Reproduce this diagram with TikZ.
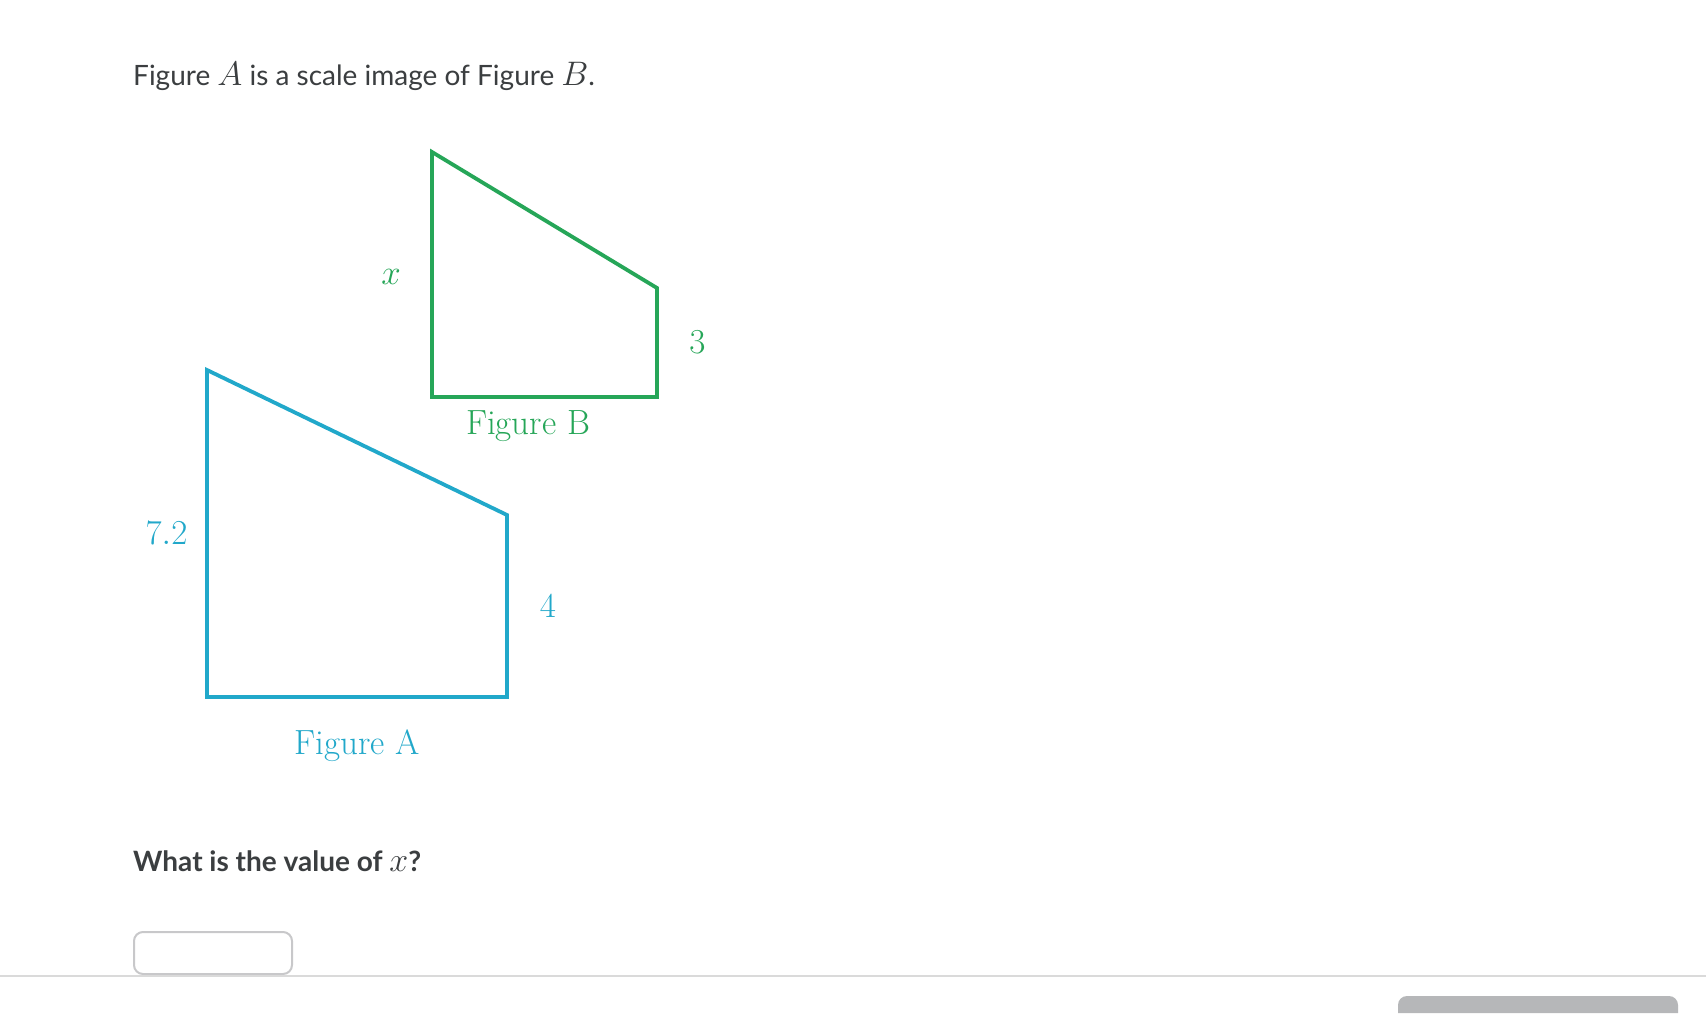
\documentclass[tikz,border=0pt]{standalone}
\usepackage{fix-cm}
\usepackage{fontspec}
\setsansfont{Lato}
\definecolor{figgreen}{RGB}{38,166,88}
\definecolor{figblue}{RGB}{33,168,202}
\definecolor{txtgray}{RGB}{59,62,64}
\definecolor{linegray}{RGB}{218,218,218}
\definecolor{boxgray}{RGB}{200,200,202}
\definecolor{btngray}{RGB}{182,183,185}
\newcommand{\bigmath}[1]{{\fontsize{34}{40}\selectfont$#1$}}
\begin{document}
\begin{tikzpicture}[x=1pt, y=-1pt,
    txt/.style = {font=\sffamily\fontsize{28}{34}\selectfont, text=txtgray, inner sep=0pt},
    lbl/.style = {font=\fontsize{35}{42}\selectfont, inner sep=0pt},
    shapeb/.style = {draw=figgreen, line width=3.8pt, line join=miter},
    shapea/.style = {draw=figblue, line width=3.8pt, line join=miter}]
    \useasboundingbox (0,0) rectangle (1706,1013);
    \fill[white] (0,0) rectangle (1706,1013);
    \node[txt, anchor=base west] (title) at (133,85) {Figure \bigmath{A} is a scale image of Figure \bigmath{B}.};
    \coordinate (b1) at (432,152);
    \coordinate (b2) at (657,288);
    \coordinate (b3) at (657,397);
    \coordinate (b4) at (432,397);
    \draw[shapeb] (b1) -- (b2) -- (b3) -- (b4) -- cycle;
    \node[lbl, text=figgreen] (x) at (391,277) {$x$};
    \node[lbl, text=figgreen] (3) at (697.5,342) {$3$};
    \node[lbl, text=figgreen, anchor=base] (figb) at (528,434) {Figure B};
    \coordinate (a1) at (207,370);
    \coordinate (a2) at (507,515);
    \coordinate (a3) at (507,697);
    \coordinate (a4) at (207,697);
    \draw[shapea] (a1) -- (a2) -- (a3) -- (a4) -- cycle;
    \node[lbl, text=figblue] (72) at (166.5,533) {$7.2$};
    \node[lbl, text=figblue] (4) at (548,606) {$4$};
    \node[lbl, text=figblue, anchor=base] (figa) at (357,754) {Figure A};
    \node[txt, font=\sffamily\bfseries\fontsize{28}{34}\selectfont, anchor=base west] (question) at (133,871) {What is the value of \bigmath{x}?};
    \node[draw=boxgray, line width=2pt, rounded corners=9pt, minimum width=158pt, minimum height=42pt, anchor=north west] (answer) at (133,931) {};
    \draw[linegray, line width=2pt] (0,976) -- (1706,976);
    \fill[btngray] (1398,1013) {[rounded corners=9pt] -- (1398,996) -- (1678,996)} -- (1678,1013) -- cycle;
\end{tikzpicture}
\end{document}
